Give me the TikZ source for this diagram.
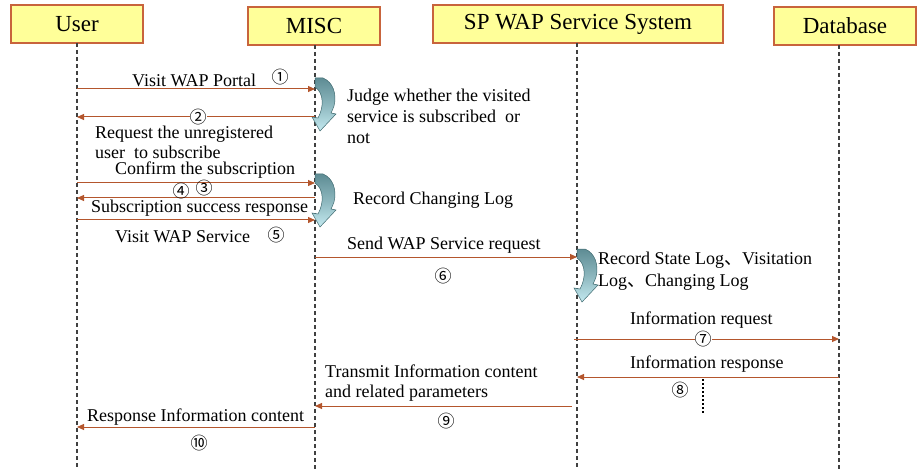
\documentclass[tikz,border=0pt]{standalone}
\usepackage{fontspec}
\setmainfont{Liberation Serif}
\newfontfamily\circfont{Noto Sans CJK SC}
\newfontfamily\cjkfont{Noto Sans CJK SC}
\usetikzlibrary{arrows.meta}
\definecolor{hdrfill}{HTML}{FFFF99}
\definecolor{hdrline}{HTML}{C8643C}
\definecolor{arrowc}{HTML}{B4562D}
\definecolor{tdark}{HTML}{5E8C94}
\definecolor{tlight}{HTML}{C4EAF0}
\definecolor{tedge}{HTML}{3F6A70}
\tikzset{
  hdr/.style={draw=hdrline, fill=hdrfill, line width=1.2pt, minimum height=38pt, inner sep=0pt, font=\fontsize{23}{26}\selectfont},
  life/.style={draw=black!75, dash pattern=on 4pt off 3pt, line width=1.1pt},
  msg/.style={draw=arrowc, line width=1pt, -{Triangle[length=7pt,width=6pt]}},
  lbl/.style={font=\fontsize{18}{21}\selectfont, inner sep=0pt, align=left},
  num/.style={font=\circfont\fontsize{17}{17}\selectfont, inner sep=0pt},
  numw/.style={num, fill=white},
  dotline/.style={draw=black, line width=2pt, dash pattern=on 2pt off 2pt},
  turn/.pic={\shade[top color=tdark, bottom color=tlight, middle color=tdark!55!tlight, draw=tedge, line width=0.5pt]
    (0,0) -- (8,0) .. controls (18,4) and (22,16) .. (19,28)
    .. controls (18,31) and (17,33) .. (16,35) -- (21,36) -- (5,53) -- (-3,39) -- (3,40)
    .. controls (9,29) and (9,15) .. (0,9) -- cycle;}
}
\begin{document}
\begin{tikzpicture}[x=1pt, y=-1pt]
\useasboundingbox (0,0) rectangle (917,470);
% headers
\node[hdr, minimum width=132pt] (user) at (77,24) {User};
\node[hdr, minimum width=132pt] (misc) at (314,26) {MISC};
\node[hdr, minimum width=290pt] (sp) at (578,24) {SP WAP Service System};
\node[hdr, minimum width=142pt] (db) at (845,26) {Database};
% lifelines
\coordinate (uT) at (77,43);   \coordinate (uB) at (77,470);
\coordinate (mT) at (315,45);  \coordinate (mB) at (315,470);
\coordinate (sT) at (577,43);  \coordinate (sB) at (577,470);
\coordinate (dT) at (839,45);  \coordinate (dB) at (839,470);
\draw[life] (uT) -- (uB);
\draw[life] (mT) -- (mB);
\draw[life] (sT) -- (sB);
\draw[life] (dT) -- (dB);
% message end points
\coordinate (u1) at (77,89);   \coordinate (m1) at (315,89);
\coordinate (u2) at (77,117);  \coordinate (m2) at (315,117);
\coordinate (u3) at (77,183);  \coordinate (m3) at (315,183);
\coordinate (u4) at (77,198);  \coordinate (m4) at (315,198);
\coordinate (u5) at (77,220);  \coordinate (m5) at (315,220);
\coordinate (m6) at (315,257); \coordinate (s6) at (577,257);
\coordinate (s7) at (574,339); \coordinate (d7) at (839,339);
\coordinate (s8) at (577,377); \coordinate (d8) at (839,377);
\coordinate (s9) at (572,406); \coordinate (m9) at (315,406);
\coordinate (m10) at (315,427); \coordinate (u10) at (77,427);
% turning arrows
\pic at (315,78) {turn};
\pic at (315,174) {turn};
\pic at (577,249) {turn};
% messages
\draw[msg] (u1) -- (m1);
\draw[msg] (m2) -- (u2);
\draw[msg] (u3) -- (m3);
\draw[msg] (m4) -- (u4);
\draw[msg] (u5) -- (m5);
\draw[msg] (m6) -- (s6);
\draw[msg] (s7) -- (d7);
\draw[msg] (d8) -- (s8);
\draw[msg] (s9) -- (m9);
\draw[msg] (m10) -- (u10);
\coordinate (dotA) at (703,379); \coordinate (dotB) at (703,413);
\draw[dotline] (dotA) -- (dotB);
% labels
\node[lbl, anchor=base west] (l1) at (132,87) {Visit WAP Portal};
\node[num] (n1) at (280,77) {①};
\node[numw] (n2) at (198,117) {②};
\node[lbl, anchor=base west] (l2a) at (95,139) {Request the unregistered};
\node[lbl, anchor=base west] (l2b) at (95,159) {user~ to subscribe};
\node[lbl, anchor=base west] (l3) at (115,175) {Confirm the subscription};
\node[num] (n3) at (204,188) {③};
\node[num] (n4) at (181,191) {④};
\node[lbl, anchor=base west] (l4) at (91,213) {Subscription success response};
\node[lbl, anchor=base west] (l5) at (115,242) {Visit WAP Service};
\node[num] (n5) at (276,235) {⑤};
\node[lbl, anchor=base west] (j1) at (347,102) {Judge whether the visited};
\node[lbl, anchor=base west] (j2) at (347,123) {service is subscribed~ or};
\node[lbl, anchor=base west] (j3) at (347,144) {not};
\node[lbl, anchor=base west] (rc) at (353,205) {Record Changing Log};
\node[lbl, anchor=base west] (l6) at (347,249) {Send WAP Service request};
\node[num] (n6) at (443,276) {⑥};
\node[lbl, anchor=base west] (rs1) at (598,264) {Record State Log{\cjkfont 、}Visitation};
\node[lbl, anchor=base west] (rs2) at (598,286) {Log{\cjkfont 、}Changing Log};
\node[lbl, anchor=base west] (l7) at (630,324) {Information request};
\node[numw] (n7) at (703,339) {⑦};
\node[lbl, anchor=base west] (l8) at (630,368) {Information response};
\node[num] (n8) at (680,390) {⑧};
\node[lbl, anchor=base west] (l9a) at (325,377) {Transmit Information content};
\node[lbl, anchor=base west] (l9b) at (325,397) {and related parameters};
\node[num] (n9) at (446,421) {⑨};
\node[lbl, anchor=base west] (l10) at (87,421) {Response Information content};
\node[num] (n10) at (199,443) {⑩};
\end{tikzpicture}
\end{document}
